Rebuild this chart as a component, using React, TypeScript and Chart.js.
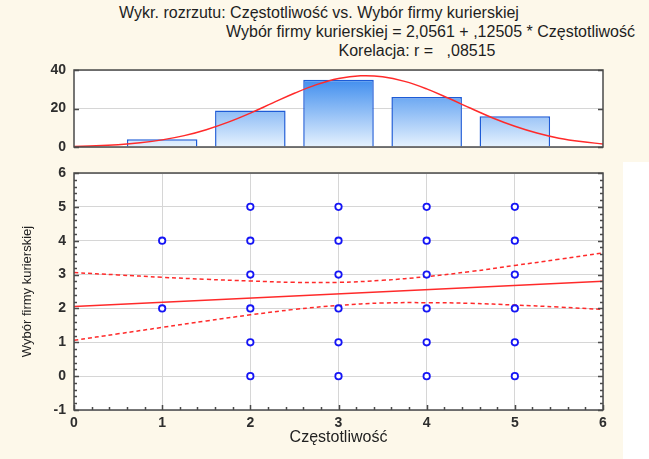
import React, { useEffect, useRef } from "react";
import { Chart, registerables } from "chart.js";

Chart.register(...registerables);
Chart.defaults.font.family = "'Liberation Sans', Arial, sans-serif";

// ---------- data ----------
const titleLine1 = "Wykr. rozrzutu: Częstotliwość vs. Wybór firmy kurierskiej";
const titleLine2 = "Wybór firmy kurierskiej = 2,0561 + ,12505 * Częstotliwość";
const titleLine3 = "Korelacja: r =   ,08515";
const xTitle = "Częstotliwość";
const yTitle = "Wybór firmy kurierskiej";

const histX = [1, 2, 3, 4, 5];
const histCounts = [4, 19, 35, 26, 16];
const histTicks = [0, 20, 40];

const curveX = [0, 0.25, 0.5, 0.75, 1, 1.25, 1.5, 1.75, 2, 2.25, 2.5, 2.75, 3, 3.25, 3.5, 3.75, 4, 4.25, 4.5, 4.75, 5, 5.25, 5.5, 5.75, 6];
const curveY = [0.3, 0.6, 1.2, 2.2, 3.7, 5.9, 9.0, 12.9, 17.6, 22.8, 27.9, 32.4, 35.6, 37.0, 36.5, 34.1, 30.2, 25.3, 20.1, 15.1, 10.8, 7.3, 4.6, 2.8, 1.6];

const scatterX = [1, 1, 2, 2, 2, 2, 2, 2, 3, 3, 3, 3, 3, 3, 4, 4, 4, 4, 4, 4, 5, 5, 5, 5, 5, 5];
const scatterY = [2, 4, 0, 1, 2, 3, 4, 5, 0, 1, 2, 3, 4, 5, 0, 1, 2, 3, 4, 5, 0, 1, 2, 3, 4, 5];

const regX = [0, 6];
const regY = [2.0561, 2.8064];

const bandX = [0, 0.5, 1, 1.5, 2, 2.5, 3, 3.5, 4, 4.5, 5, 5.5, 6];
const bandUpper = [3.06, 2.99, 2.92, 2.86, 2.81, 2.77, 2.77, 2.83, 2.94, 3.09, 3.27, 3.45, 3.64];
const bandLower = [1.06, 1.25, 1.44, 1.63, 1.81, 1.97, 2.09, 2.16, 2.17, 2.15, 2.1, 2.04, 1.97];

const xTicks = [0, 1, 2, 3, 4, 5, 6];
const yTicks = [-1, 0, 1, 2, 3, 4, 5, 6];

// ---------- styles ----------
const BG = "#fdf8ea";
const GRID = "#d6d6d6";
const FRAME = "#4a4a4a";
const TICK_COLOR = "#2e2e2e";
const RED = "#ff2a2a";
const BLUE = "#1515f5";

const framePlugin = {
  id: "frameTicks",
  beforeDraw(chart: any) {
    const { ctx, chartArea: a } = chart;
    ctx.save();
    ctx.fillStyle = "#ffffff";
    ctx.fillRect(a.left, a.top, a.right - a.left, a.bottom - a.top);
    ctx.restore();
  },
  afterDraw(chart: any, _args: any, opts: any) {
    const { ctx, chartArea: a } = chart;
    ctx.save();
    ctx.strokeStyle = FRAME;
    ctx.lineWidth = 1.5;
    ctx.beginPath();
    const ys = chart.scales.y;
    const xs = chart.scales.x;
    if (opts && opts.yMinor) {
      for (let v = ys.min; v <= ys.max + 1e-9; v += opts.yMinor) {
        const p = Math.round(ys.getPixelForValue(v)) + 0.5;
        const isMajor = Math.abs(v - Math.round(v / opts.yMajor) * opts.yMajor) < 1e-6;
        const len = isMajor ? 5 : 3;
        ctx.moveTo(a.left, p);
        ctx.lineTo(a.left + len, p);
        ctx.moveTo(a.right, p);
        ctx.lineTo(a.right - len, p);
      }
    }
    if (opts && opts.xMinor) {
      for (let v = xs.min; v <= xs.max + 1e-9; v += opts.xMinor) {
        const p = Math.round(xs.getPixelForValue(v)) + 0.5;
        const isMajor = Math.abs(v - Math.round(v)) < 1e-6;
        const len = isMajor ? 5 : 3;
        ctx.moveTo(p, a.bottom);
        ctx.lineTo(p, a.bottom - len);
      }
    }
    ctx.stroke();
    ctx.lineWidth = 1.5;
    ctx.strokeRect(a.left, a.top, a.right - a.left, a.bottom - a.top);
    ctx.restore();
  },
};

const tickFont = { size: 14, weight: "bold" as const };

const fixY = (s: any) => {
  s.width = 74;
  s.paddingTop = 0;
  s.paddingBottom = 0;
};

function TopHistogram() {
  const ref = useRef<HTMLCanvasElement>(null);
  useEffect(() => {
    if (!ref.current) return;
    const chart = new Chart(ref.current, {
      type: "bar",
      data: {
        datasets: [
          {
            type: "line",
            data: curveX.map((x, i) => ({ x, y: curveY[i] })),
            borderColor: RED,
            borderWidth: 1.5,
            pointRadius: 0,
            tension: 0.4,
            fill: false,
          } as any,
          {
            type: "bar",
            data: histX.map((x, i) => ({ x, y: histCounts[i] })),
            backgroundColor: (c: any) => {
              const area = c.chart.chartArea;
              if (!area) return "#8fc2f5";
              const g = c.chart.ctx.createLinearGradient(0, area.top, 0, area.bottom);
              g.addColorStop(0, "#2a80ec");
              g.addColorStop(1, "#e6f2fe");
              return g;
            },
            borderColor: "#1d5bd6",
            borderWidth: 1.5,
            barPercentage: 0.8,
            categoryPercentage: 1,
          } as any,
        ],
      },
      options: {
        responsive: false,
        animation: false,
        layout: { padding: { top: 10, right: 46, bottom: 8, left: 0 } },
        plugins: {
          legend: { display: false },
          tooltip: { enabled: false },
          frameTicks: { yMinor: 20, yMajor: 20 },
        } as any,
        scales: {
          x: { type: "linear", min: 0, max: 6, offset: false, display: false },
          y: {
            min: 0,
            max: 40,
            afterBuildTicks: (s: any) => {
              s.ticks = histTicks.map((v) => ({ value: v }));
            },
            afterFit: fixY,
            grid: { color: GRID, drawTicks: false },
            border: { display: false },
            ticks: { padding: 8, color: TICK_COLOR, font: tickFont },
          },
        },
      },
      plugins: [framePlugin],
    });
    return () => chart.destroy();
  }, []);
  return (
    <canvas
      ref={ref}
      width={649}
      height={95}
      style={{ position: "absolute", left: 0, top: 60, width: 649, height: 95 }}
    />
  );
}

function ScatterPlot() {
  const ref = useRef<HTMLCanvasElement>(null);
  useEffect(() => {
    if (!ref.current) return;
    const chart = new Chart(ref.current, {
      type: "scatter",
      data: {
        datasets: [
          {
            data: scatterX.map((x, i) => ({ x, y: scatterY[i] })),
            showLine: false,
            pointStyle: "circle",
            pointRadius: 3.2,
            pointBorderWidth: 1.8,
            borderColor: BLUE,
            backgroundColor: "#ffffff",
          },
          {
            data: regX.map((x, i) => ({ x, y: regY[i] })),
            showLine: true,
            borderColor: RED,
            borderWidth: 1.5,
            pointRadius: 0,
          },
          {
            data: bandX.map((x, i) => ({ x, y: bandUpper[i] })),
            showLine: true,
            borderColor: RED,
            borderWidth: 1.5,
            borderDash: [4, 3],
            pointRadius: 0,
            tension: 0.4,
          },
          {
            data: bandX.map((x, i) => ({ x, y: bandLower[i] })),
            showLine: true,
            borderColor: RED,
            borderWidth: 1.5,
            borderDash: [4, 3],
            pointRadius: 0,
            tension: 0.4,
          },
        ],
      },
      options: {
        responsive: false,
        animation: false,
        layout: { padding: { top: 13, right: 46, bottom: 0, left: 0 } },
        plugins: {
          legend: { display: false },
          tooltip: { enabled: false },
          frameTicks: { yMinor: 0.2, yMajor: 1, xMinor: 0.2 },
        } as any,
        scales: {
          x: {
            type: "linear",
            min: 0,
            max: 6,
            afterBuildTicks: (s: any) => {
              s.ticks = xTicks.map((v) => ({ value: v }));
            },
            afterFit: (s: any) => {
              s.height = 49;
            },
            grid: { color: GRID, drawTicks: false },
            border: { display: false },
            ticks: { padding: 5, color: TICK_COLOR, font: tickFont },
            title: {
              display: true,
              text: xTitle,
              color: "#222",
              font: { size: 16 },
              padding: { top: 0, bottom: 12 },
            },
          },
          y: {
            min: -1,
            max: 6,
            afterBuildTicks: (s: any) => {
              s.ticks = yTicks.map((v) => ({ value: v }));
            },
            afterFit: fixY,
            grid: { color: GRID, drawTicks: false },
            border: { display: false },
            ticks: { padding: 8, color: TICK_COLOR, font: tickFont },
            title: {
              display: true,
              text: yTitle,
              color: "#222",
              font: { size: 13 },
              padding: { top: 20, bottom: 0 },
            },
          },
        },
      },
      plugins: [framePlugin],
    });
    return () => chart.destroy();
  }, []);
  return (
    <canvas
      ref={ref}
      width={649}
      height={299}
      style={{ position: "absolute", left: 0, top: 160, width: 649, height: 299 }}
    />
  );
}

export default function App() {
  const textStyle: React.CSSProperties = {
    position: "absolute",
    fontFamily: "'Liberation Sans', Arial, sans-serif",
    fontSize: 16,
    color: "#1e1e1e",
    whiteSpace: "pre",
    lineHeight: "18px",
  };
  return (
    <div
      style={{
        position: "fixed",
        left: 0,
        top: 0,
        width: 649,
        height: 459,
        background: BG,
        overflow: "hidden",
      }}
    >
      <div style={{ ...textStyle, left: 0, width: 638, top: 4, textAlign: "center" }}>{titleLine1}</div>
      <div style={{ ...textStyle, right: 14, top: 23, textAlign: "right" }}>{titleLine2}</div>
      <div style={{ ...textStyle, left: 0, width: 834, top: 42, textAlign: "center" }}>{titleLine3}</div>
      <div style={{ position: "absolute", left: 623, top: 162, width: 26, height: 297, background: "#ffffff" }} />
      <TopHistogram />
      <ScatterPlot />
    </div>
  );
}
